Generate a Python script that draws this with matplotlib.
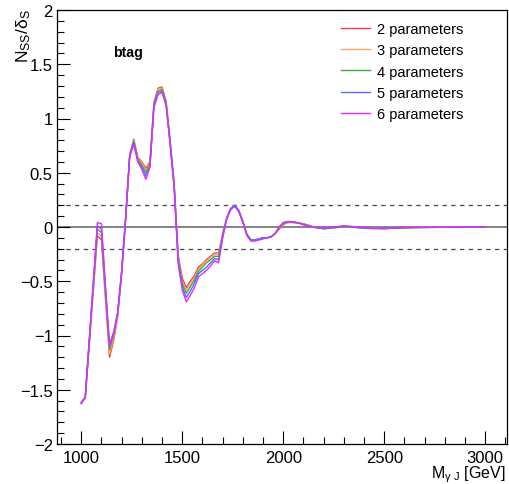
import matplotlib
matplotlib.use("Agg")
import matplotlib.pyplot as plt
from matplotlib.ticker import MultipleLocator

plt.rcParams["font.family"] = ["Liberation Sans", "DejaVu Sans"]
plt.rcParams["mathtext.fontset"] = "custom"
plt.rcParams["mathtext.rm"] = "Liberation Sans"
plt.rcParams["mathtext.it"] = "Liberation Sans:italic"
plt.rcParams["mathtext.bf"] = "Liberation Sans:bold"

# Diphoton-jet invariant mass grid [GeV]
mass = [1000, 1020, 1040, 1060, 1080, 1100, 1120, 1140, 1160, 1180,
        1200, 1220, 1240, 1260, 1280, 1300, 1320, 1340, 1360, 1380,
        1400, 1420, 1440, 1460, 1480, 1500, 1520, 1540, 1560, 1580,
        1600, 1620, 1640, 1660, 1680, 1700, 1720, 1740, 1760, 1780,
        1800, 1820, 1840, 1860, 1880, 1900, 1920, 1940, 1960, 1980,
        2000, 2020, 2040, 2060, 2080, 2100,
        2150, 2200, 2250, 2300, 2350, 2400, 2450, 2500, 2550, 2600,
        2650, 2700, 2750, 2800, 2850, 2900, 2950, 3000]

# Spurious signal over signal uncertainty, one series per fit function
ss_2par = [-1.62, -1.58, -1.08, -0.58, -0.08, -0.12, -0.66, -1.20, -1.05, -0.83,
           -0.43, 0.08, 0.67, 0.81, 0.64, 0.60, 0.54, 0.60, 1.15, 1.28,
           1.29, 1.16, 0.80, 0.40, -0.26, -0.47, -0.56, -0.50, -0.45, -0.37,
           -0.34, -0.30, -0.27, -0.24, -0.24, -0.06, 0.08, 0.17, 0.19, 0.15,
           0.05, -0.07, -0.12, -0.12, -0.11, -0.10, -0.10, -0.09, -0.06, -0.02,
           0.02, 0.040, 0.042, 0.040, 0.037, 0.030,
           0.002, -0.012, -0.006, 0.002, -0.003, -0.008, -0.010, -0.007, -0.009, -0.006,
           -0.004, -0.003, -0.003, -0.002, -0.002, -0.001, -0.001, 0.0]

ss_3par = [-1.62, -1.575, -1.07, -0.56, -0.05, -0.09, -0.63, -1.17, -1.03, -0.82,
           -0.42, 0.08, 0.67, 0.80, 0.63, 0.59, 0.52, 0.59, 1.14, 1.27,
           1.28, 1.15, 0.79, 0.39, -0.28, -0.50, -0.58, -0.52, -0.47, -0.39,
           -0.35, -0.31, -0.28, -0.25, -0.25, -0.07, 0.08, 0.17, 0.20, 0.15,
           0.05, -0.07, -0.12, -0.12, -0.11, -0.10, -0.10, -0.09, -0.06, -0.015,
           0.025, 0.042, 0.044, 0.040, 0.036, 0.028,
           0.001, -0.015, -0.007, 0.003, -0.002, -0.010, -0.012, -0.008, -0.010, -0.006,
           -0.004, -0.004, -0.003, -0.002, -0.002, -0.001, -0.001, 0.0]

ss_4par = [-1.62, -1.57, -1.05, -0.53, -0.02, -0.05, -0.60, -1.13, -1.00, -0.80,
           -0.42, 0.08, 0.66, 0.79, 0.62, 0.57, 0.50, 0.58, 1.13, 1.25,
           1.27, 1.14, 0.78, 0.38, -0.30, -0.52, -0.61, -0.55, -0.49, -0.41,
           -0.37, -0.33, -0.30, -0.27, -0.27, -0.08, 0.08, 0.17, 0.20, 0.15,
           0.05, -0.07, -0.12, -0.12, -0.11, -0.10, -0.10, -0.09, -0.06, -0.01,
           0.03, 0.045, 0.045, 0.040, 0.035, 0.025,
           0.0, -0.018, -0.008, 0.003, -0.002, -0.012, -0.015, -0.009, -0.011, -0.007,
           -0.005, -0.004, -0.003, -0.003, -0.002, -0.002, -0.001, -0.001]

ss_5par = [-1.62, -1.565, -1.04, -0.51, 0.01, -0.02, -0.56, -1.08, -0.97, -0.79,
           -0.41, 0.09, 0.66, 0.78, 0.61, 0.55, 0.47, 0.56, 1.12, 1.24,
           1.25, 1.13, 0.77, 0.37, -0.32, -0.55, -0.65, -0.59, -0.52, -0.43,
           -0.40, -0.37, -0.33, -0.29, -0.30, -0.09, 0.08, 0.17, 0.20, 0.15,
           0.05, -0.07, -0.12, -0.12, -0.11, -0.10, -0.10, -0.09, -0.06, 0.0,
           0.04, 0.050, 0.050, 0.045, 0.035, 0.022,
           -0.002, -0.014, -0.004, 0.006, 0.001, -0.009, -0.013, -0.010, -0.010, -0.006,
           -0.005, -0.004, -0.003, -0.003, -0.002, -0.002, -0.001, -0.001]

ss_6par = [-1.63, -1.56, -1.03, -0.50, 0.04, 0.03, -0.55, -1.10, -0.99, -0.80,
           -0.41, 0.09, 0.65, 0.76, 0.60, 0.53, 0.44, 0.55, 1.10, 1.22,
           1.24, 1.12, 0.76, 0.36, -0.34, -0.58, -0.69, -0.63, -0.56, -0.46,
           -0.43, -0.40, -0.36, -0.31, -0.33, -0.10, 0.07, 0.16, 0.19, 0.14,
           0.04, -0.08, -0.13, -0.13, -0.12, -0.11, -0.10, -0.09, -0.06, 0.0,
           0.04, 0.050, 0.050, 0.045, 0.033, 0.020,
           -0.004, -0.012, 0.0, 0.012, 0.004, -0.006, -0.014, -0.018, -0.010, -0.006,
           -0.004, -0.004, -0.003, -0.003, -0.002, -0.002, -0.001, -0.001]

labels = ["2 parameters", "3 parameters", "4 parameters", "5 parameters", "6 parameters"]
colors = ["#f23c3c", "#ffa468", "#3cad3c", "#4a72ff", "#e02cff"]
series = [ss_2par, ss_3par, ss_4par, ss_5par, ss_6par]

W, H = 509, 485
fig = plt.figure(figsize=(W / 100, H / 100), dpi=100)
ax = fig.add_axes([57 / W, 1 - 445 / H, 450.5 / W, 434 / H])

# reference bands
ax.axhline(0.0, color="#7a7a7a", lw=1.3, zorder=1)
for yv in (0.2, -0.2):
    ax.axhline(yv, color="#444444", lw=0.9, ls=(0, (3.5, 3.5)), zorder=1)

for vals, col, lab in zip(series, colors, labels):
    ax.plot(mass, vals, color=col, lw=1.0, label=lab, zorder=2)

ax.set_xlim(880, 3110)
ax.set_ylim(-2, 2)
ax.xaxis.set_major_locator(MultipleLocator(500))
ax.xaxis.set_minor_locator(MultipleLocator(100))
ax.yaxis.set_major_locator(MultipleLocator(0.5))
ax.yaxis.set_minor_locator(MultipleLocator(0.1))
ax.tick_params(which="both", direction="in", top=False, right=False,
               width=0.8, labelsize=12)
ax.tick_params(which="major", length=9.5)
ax.tick_params(which="minor", length=4.8)
ax.tick_params(axis="x", which="major", pad=4)
ax.tick_params(axis="y", which="major", pad=3)
ax.yaxis.set_major_formatter(plt.FuncFormatter(
    lambda v, p: ("\u2212" if v < 0 else "") + ("%g" % abs(v))))
for sp in ax.spines.values():
    sp.set_linewidth(0.9)

fig.text(24 / W, 1 - 9 / H, r"N$_{\mathregular{SS}}$/$\mathregular{\delta_{S}}$",
         rotation=90, ha="center", va="top", fontsize=12.5)
fig.text(506 / W, 1 - 478.5 / H, r"M$_{\mathregular{\gamma\ J}}$ [GeV]",
         ha="right", va="baseline", fontsize=11.5)
fig.text(113 / W, 1 - 57 / H, "btag", ha="left", va="baseline",
         fontsize=10.2, fontweight="bold")

ax.legend(loc="upper left", bbox_to_anchor=(341 / W, 1 - 23 / H),
          bbox_transform=fig.transFigure, frameon=False, fontsize=10.5,
          handlelength=2.0, handletextpad=0.48, labelspacing=0.5,
          borderpad=0, borderaxespad=0)

fig.savefig("out.png", dpi=100)
